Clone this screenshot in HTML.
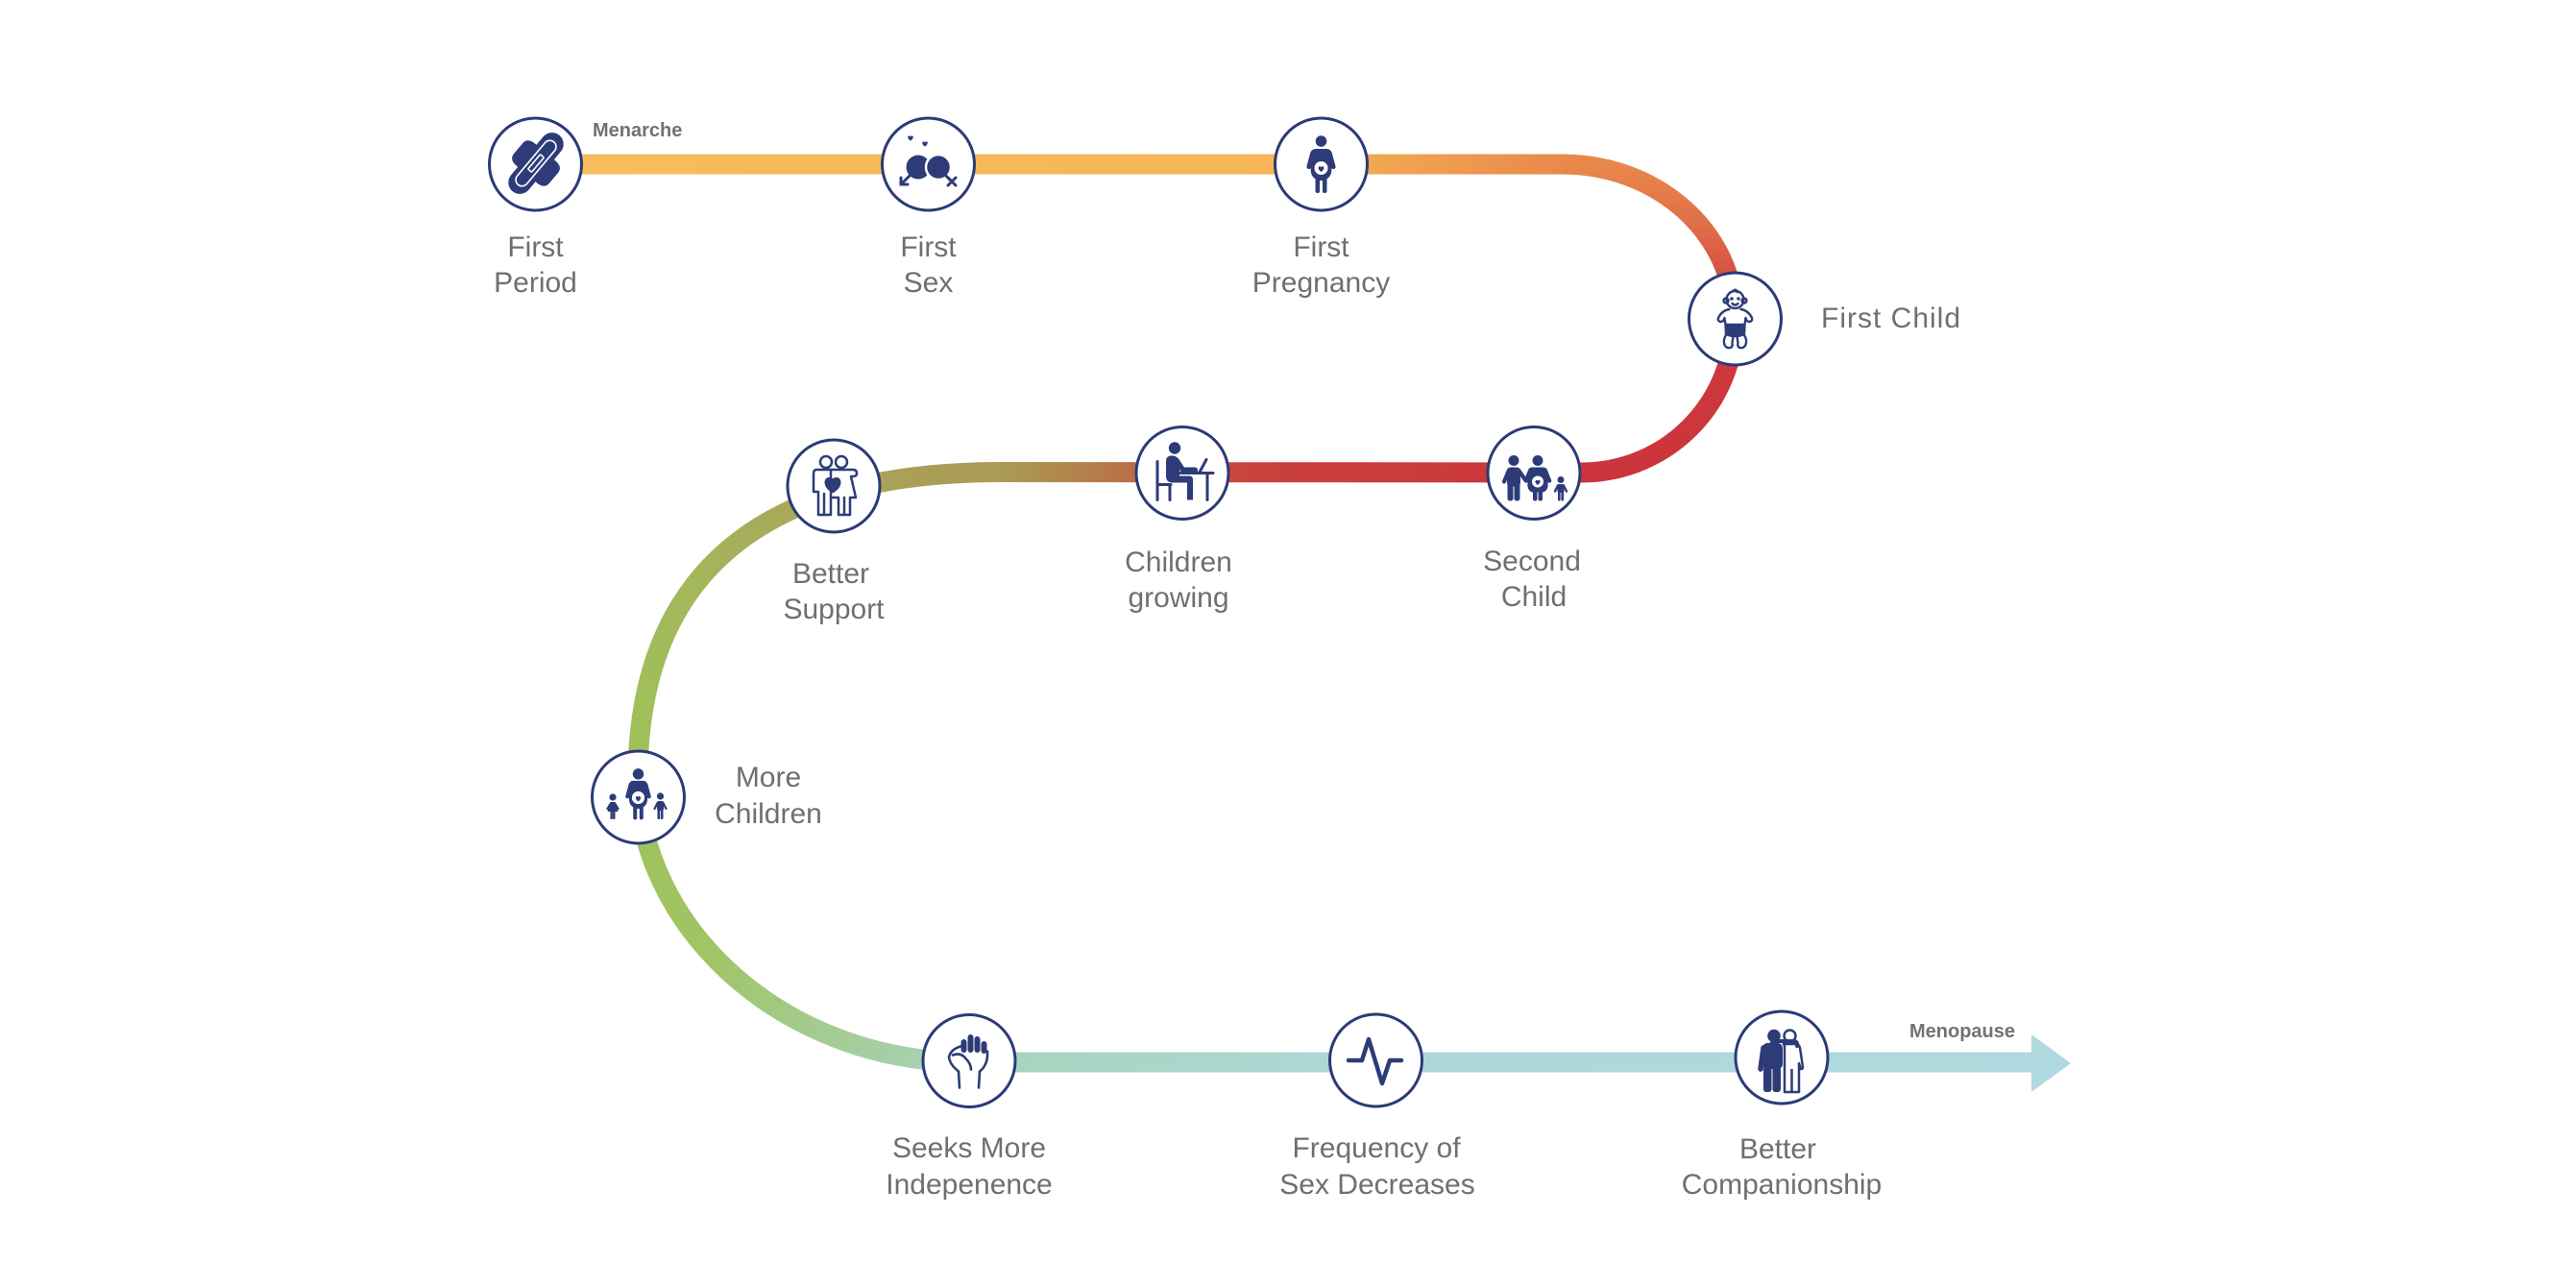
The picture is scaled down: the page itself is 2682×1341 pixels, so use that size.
<!DOCTYPE html>
<html>
<head>
<meta charset="utf-8">
<style>
  html, body { margin: 0; padding: 0; background: #ffffff; }
  svg { display: block; }
  .lbl { font-family: "Liberation Sans", Arial, sans-serif; font-size: 30px; fill: #6f6f71; }
  .sm { font-family: "Liberation Sans", Arial, sans-serif; font-size: 20px; font-weight: bold; fill: #727274; }
</style>
</head>
<body>
<svg width="2682" height="1341" viewBox="0 0 2682 1341" xmlns="http://www.w3.org/2000/svg">
  <defs>
    <linearGradient id="gA" gradientUnits="userSpaceOnUse" x1="557" y1="0" x2="1627" y2="0">
      <stop offset="0" stop-color="#f7bd5c"/>
      <stop offset="0.72" stop-color="#f5b558"/>
      <stop offset="0.9" stop-color="#ee9a4e"/>
      <stop offset="1" stop-color="#e9884b"/>
    </linearGradient>
    <linearGradient id="gB" gradientUnits="userSpaceOnUse" x1="0" y1="171" x2="0" y2="492">
      <stop offset="0" stop-color="#e9884b"/>
      <stop offset="0.2" stop-color="#e06e48"/>
      <stop offset="0.4" stop-color="#d44941"/>
      <stop offset="0.6" stop-color="#cd383c"/>
      <stop offset="1" stop-color="#cc353b"/>
    </linearGradient>
    <linearGradient id="gC" gradientUnits="userSpaceOnUse" x1="1647" y1="0" x2="1040" y2="0">
      <stop offset="0" stop-color="#cc353b"/>
      <stop offset="0.55" stop-color="#c9403d"/>
      <stop offset="0.7" stop-color="#bf5d42"/>
      <stop offset="0.85" stop-color="#b3804b"/>
      <stop offset="1" stop-color="#aa9b55"/>
    </linearGradient>
    <linearGradient id="gD" gradientUnits="userSpaceOnUse" x1="1040" y1="491" x2="664" y2="810">
      <stop offset="0" stop-color="#aa9b55"/>
      <stop offset="0.3" stop-color="#aaa45a"/>
      <stop offset="0.65" stop-color="#a4b75a"/>
      <stop offset="1" stop-color="#9ec259"/>
    </linearGradient>
    <linearGradient id="gE" gradientUnits="userSpaceOnUse" x1="664" y1="810" x2="1009" y2="1106">
      <stop offset="0" stop-color="#9ec259"/>
      <stop offset="0.4" stop-color="#a0c567"/>
      <stop offset="0.75" stop-color="#a5cc98"/>
      <stop offset="1" stop-color="#a8d3bb"/>
    </linearGradient>
    <linearGradient id="gF" gradientUnits="userSpaceOnUse" x1="1009" y1="0" x2="2116" y2="0">
      <stop offset="0" stop-color="#a8d3bb"/>
      <stop offset="0.2" stop-color="#aad6cb"/>
      <stop offset="0.4" stop-color="#add8da"/>
      <stop offset="1" stop-color="#afdadf"/>
    </linearGradient>
  </defs>

  <!-- timeline path segments -->
  <g fill="none" stroke-width="21" stroke-linecap="butt">
    <path d="M557,171 H1628" stroke="url(#gA)"/>
    <path d="M1627,171 C1726,171 1806,243 1806,332 C1806,421 1735,492 1646,492" stroke="url(#gB)"/>
    <path d="M1648,492 L1040,491.5" stroke="url(#gC)"/>
    <path d="M1041,491.5 C880,491.5 664,535 664,811" stroke="url(#gD)"/>
    <path d="M664,809 C664,960 809,1106 1010,1106" stroke="url(#gE)"/>
    <path d="M1008,1106 H2116" stroke="url(#gF)"/>
  </g>
  <polygon points="2115,1077 2156,1107 2115,1137" fill="#afdadf"/>

  <!-- circles -->
  <g fill="#ffffff" stroke="#2b3a78" stroke-width="3">
    <circle cx="557.5" cy="171" r="48"/>
    <circle cx="966.5" cy="171" r="48"/>
    <circle cx="1375.5" cy="171" r="48"/>
    <circle cx="1806.5" cy="332" r="48"/>
    <circle cx="1597" cy="492.5" r="48"/>
    <circle cx="1231" cy="492.5" r="48"/>
    <circle cx="868" cy="506" r="48"/>
    <circle cx="664.5" cy="830" r="48"/>
    <circle cx="1009" cy="1104.5" r="48"/>
    <circle cx="1432.5" cy="1104" r="48"/>
    <circle cx="1855" cy="1101" r="48"/>
  </g>

  <!-- Icon 1: pad -->
  <g transform="translate(558,170) rotate(40)" fill="#2d3c78">
    <rect x="-12" y="-38" width="24" height="76" rx="12"/>
    <path d="M-11,-15 Q-24,-16 -24,-7 L-24,7 Q-24,16 -11,15 Z"/>
    <path d="M11,-15 Q24,-16 24,-7 L24,7 Q24,16 11,15 Z"/>
    <rect x="-6.5" y="-29" width="13" height="58" rx="6.5" fill="none" stroke="#fff" stroke-width="1.6"/>
    <rect x="-2.5" y="-10" width="5" height="20" rx="1" fill="none" stroke="#fff" stroke-width="1.6"/>
  </g>

  <!-- Icon 2: first sex -->
  <g fill="#2d3c78">
    <circle cx="956" cy="174" r="12.5"/>
    <circle cx="977" cy="174" r="13" stroke="#fff" stroke-width="2.5"/>
    <path d="M948,146.6 C943.2,143.4 945.6,139.8 948,142.2 C950.4,139.8 952.8,143.4 948,146.6Z"/>
    <path d="M963,152.6 C958.2,149.4 960.6,145.8 963,148.2 C965.4,145.8 967.8,149.4 963,152.6Z"/>
    <g stroke="#2d3c78" stroke-width="3" fill="none" stroke-linecap="round">
      <path d="M947,183 L939,191"/>
      <path d="M938,185 L938,192 L945,192"/>
      <path d="M985,183 L991,189"/>
      <path d="M987,193 L995,185 M987,185 L995,193"/>
    </g>
  </g>

  <!-- Icon 3: pregnant woman -->
  <g transform="translate(1375.5,171)" fill="#2d3c78">
    <circle cx="0" cy="-24" r="5.8"/>
    <path d="M-6,-16 H6 Q10,-16 11.5,-11 L15,2 Q15.5,4.5 13,5 Q11,5.3 10.5,3 L8,-5 Q12,2 10.5,9 Q9,14 6,15 L6,28 Q6,30 3.5,30 Q1.5,30 1.5,28 L1.5,17 H-1.5 L-1.5,28 Q-1.5,30 -3.5,30 Q-6,30 -6,28 L-6,15 Q-9,14 -10.5,9 Q-12,2 -8,-5 L-10.5,3 Q-11,5.3 -13,5 Q-15.5,4.5 -15,2 L-11.5,-11 Q-10,-16 -6,-16Z"/>
    <circle cx="0" cy="4" r="7" fill="#fff"/>
    <path d="M0,8 C-5,4.5 -2.5,0.5 0,3 C2.5,0.5 5,4.5 0,8Z"/>
  </g>

  <!-- Icon 4: baby -->
  <g transform="translate(1806.5,332)" fill="none" stroke="#2d3c78" stroke-width="2.4" stroke-linejoin="round" stroke-linecap="round">
    <circle cx="0" cy="-20" r="9"/>
    <circle cx="-9.5" cy="-19" r="2.5"/>
    <circle cx="9.5" cy="-19" r="2.5"/>
    <path d="M-3,-16 Q0,-13 3,-16"/>
    <path d="M-2,-29 Q1,-32 2,-28"/>
    <path d="M-6,-10 Q-13,-9 -17,-2 Q-19,2 -15,3 Q-12,3 -11,-1 L-10,6 M10,6 L11,-1 Q12,3 15,3 Q19,2 17,-2 Q13,-9 6,-10"/>
    <path d="M-10,6 H10 L9.5,16 Q5,18 0,18 Q-5,18 -9.5,16Z" fill="#2d3c78"/>
    <path d="M-9,16 Q-13,22 -11,27 Q-9,31 -5,30 Q-2,29 -3,25 L-2,18"/>
    <path d="M9,16 Q13,22 11,27 Q9,31 5,30 Q2,29 3,25 L2,18"/>
    <circle cx="-3.5" cy="-21" r="0.6" fill="#2d3c78"/>
    <circle cx="3.5" cy="-21" r="0.6" fill="#2d3c78"/>
  </g>

  <!-- Icon 5: second child (family) -->
  <g transform="translate(1597,492.5)" fill="#2d3c78">
    <circle cx="-21" cy="-13" r="5.5"/>
    <rect x="-28" y="-6" width="14" height="20" rx="4"/>
    <rect x="-27.5" y="10" width="6" height="19" rx="2.5"/>
    <rect x="-20.5" y="10" width="6" height="19" rx="2.5"/>
    <g stroke="#2d3c78" stroke-width="4.2" stroke-linecap="round">
      <line x1="-26" y1="-3" x2="-31" y2="9"/>
      <line x1="-16" y1="-3" x2="-9" y2="7"/>
    </g>
    <circle cx="4" cy="-13" r="5.5"/>
    <path d="M-2,-6 H10 Q13,-6 14,-3 L18,7 Q19,9 17,10 Q15,10.5 14,9 L12,3 Q16,10 14,16 Q12,20 9,20 H-1 Q-4,20 -6,16 Q-8,10 -4,3 L-6,9 Q-7,10.5 -9,10 Q-11,9 -10,7 L-6,-3 Q-5,-6 -2,-6Z"/>
    <rect x="-1" y="18" width="4.5" height="11" rx="2"/>
    <rect x="4.5" y="18" width="4.5" height="11" rx="2"/>
    <circle cx="4" cy="9" r="6" fill="#fff"/>
    <path d="M4,12.5 C-0.5,9.5 1.8,6 4,8 C6.2,6 8.5,9.5 4,12.5Z"/>
    <circle cx="28" cy="7" r="3.5"/>
    <rect x="24.5" y="11.5" width="7" height="9" rx="2"/>
    <rect x="25" y="19" width="2.6" height="10" rx="1"/>
    <rect x="28.4" y="19" width="2.6" height="10" rx="1"/>
    <g stroke="#2d3c78" stroke-width="2.4" stroke-linecap="round">
      <line x1="25" y1="13" x2="22" y2="19"/>
      <line x1="31" y1="13" x2="34" y2="19"/>
    </g>
  </g>

  <!-- Icon 6: children growing (person at desk) -->
  <g transform="translate(1231,492.5)" fill="#2d3c78">
    <circle cx="-8" cy="-26" r="6.2"/>
    <path d="M-15,-17 Q-9,-20 -4,-15 L2,-6 H13 Q16,-6 16,-3 Q16,0 13,0 H-1 L-3,-4 L-3,3 H7 Q11,3 11,7 V28 H5 V10 H-10 Q-17,10 -17,3 V-12 Q-17,-16 -15,-17Z"/>
    <g stroke="#2d3c78" stroke-width="3" stroke-linecap="round" fill="none">
      <line x1="-26" y1="-12" x2="-26" y2="28"/>
      <line x1="-26" y1="12" x2="-12" y2="12"/>
      <line x1="-13" y1="12" x2="-13" y2="28"/>
      <line x1="-2" y1="0" x2="32" y2="0"/>
      <line x1="26" y1="0" x2="26" y2="28"/>
      <line x1="18" y1="-1" x2="25" y2="-14"/>
    </g>
  </g>

  <!-- Icon 7: better support -->
  <g transform="translate(868,506)" fill="none" stroke="#2d3c78" stroke-width="2.5" stroke-linejoin="round" stroke-linecap="round">
    <circle cx="-8" cy="-25" r="6"/>
    <circle cx="8" cy="-25" r="6"/>
    <path d="M-18,-17 H-3 V30 H-16 V6 H-21 V-13 Q-21,-17 -18,-17Z"/>
    <line x1="-10" y1="8" x2="-10" y2="30"/>
    <path d="M-3,-17 H20 Q24,-17 24,-13 Q24,-10 20,-10 L18,-10 L23,12 H17 V30 H5 V12 H-1"/>
    <line x1="11" y1="12" x2="11" y2="30"/>
    <path d="M-1,6 C-13,-1 -8,-12 -1,-6 C6,-12 11,-1 -1,6Z" fill="#2d3c78"/>
  </g>

  <!-- Icon 8: more children -->
  <g fill="#2d3c78">
    <g transform="translate(664.5,827) scale(0.88)">
      <circle cx="0" cy="-24" r="6.5"/>
      <path d="M-6,-16 H6 Q10,-16 11.5,-11 L15,2 Q15.5,4.5 13,5 Q11,5.3 10.5,3 L8,-5 Q12,2 10.5,9 Q9,14 6,15 L6,28 Q6,30 3.5,30 Q1.5,30 1.5,28 L1.5,17 H-1.5 L-1.5,28 Q-1.5,30 -3.5,30 Q-6,30 -6,28 L-6,15 Q-9,14 -10.5,9 Q-12,2 -8,-5 L-10.5,3 Q-11,5.3 -13,5 Q-15.5,4.5 -15,2 L-11.5,-11 Q-10,-16 -6,-16Z"/>
      <circle cx="0" cy="4" r="7.5" fill="#fff"/>
      <path d="M0,8.5 C-5,5 -2.5,0.5 0,3 C2.5,0.5 5,5 0,8.5Z"/>
    </g>
    <g transform="translate(664.5,830)">
      <circle cx="-26.5" cy="0" r="3.6"/>
      <path d="M-29,5 H-24 L-21,15 H-32Z"/>
      <rect x="-29" y="14" width="2.4" height="9" rx="1"/>
      <rect x="-26.4" y="14" width="2.4" height="9" rx="1"/>
      <circle cx="23" cy="-1" r="3.6"/>
      <rect x="19.5" y="4" width="7" height="10" rx="2"/>
      <rect x="20" y="13" width="2.6" height="10" rx="1"/>
      <rect x="23.4" y="13" width="2.6" height="10" rx="1"/>
      <g stroke="#2d3c78" stroke-width="2.2" stroke-linecap="round">
        <line x1="-29" y1="7" x2="-32" y2="12"/>
        <line x1="-24" y1="7" x2="-21" y2="12"/>
        <line x1="20" y1="6" x2="17" y2="12"/>
        <line x1="26" y1="6" x2="29" y2="12"/>
      </g>
    </g>
  </g>

  <!-- Icon 9: fist -->
  <g transform="translate(1009,1104.5)">
    <g fill="#2d3c78" stroke="#fff" stroke-width="1">
      <rect x="-9" y="-23" width="7" height="15" rx="3.5"/>
      <rect x="-2" y="-28" width="7" height="20" rx="3.5"/>
      <rect x="5" y="-26" width="7" height="18" rx="3.5"/>
      <rect x="12" y="-21" width="7" height="14" rx="3.5"/>
    </g>
    <g fill="none" stroke="#2d3c78" stroke-width="2.6" stroke-linecap="round" stroke-linejoin="round">
      <path d="M-9,-15 Q-19,-12 -21,-4 Q-20,4 -11,11 L-10,28"/>
      <path d="M19,-10 Q20,4 11,11 L10,28"/>
      <path d="M-17,-6 Q-9,-9 -4,-3 Q2,3 2,9"/>
    </g>
  </g>

  <!-- Icon 10: pulse -->
  <polyline points="1404,1104 1418,1104 1425,1082 1439,1128 1447,1104 1459,1104" fill="none" stroke="#2d3c78" stroke-width="4.5" stroke-linecap="round" stroke-linejoin="round"/>

  <!-- Icon 11: companionship -->
  <g transform="translate(1855,1101)">
    <g fill="#2d3c78">
      <circle cx="-8" cy="-22.5" r="6.8"/>
      <rect x="-20" y="-15" width="21" height="27" rx="5"/>
      <rect x="-19" y="9" width="8.5" height="27" rx="3"/>
      <rect x="-9.5" y="9" width="8.5" height="27" rx="3"/>
      <line x1="-19" y1="-10" x2="-22" y2="12" stroke="#2d3c78" stroke-width="5.5" stroke-linecap="round"/>
    </g>
    <g fill="#fff" stroke="#2d3c78" stroke-width="2.5" stroke-linejoin="round">
      <circle cx="8.5" cy="-22.5" r="6"/>
      <path d="M2,-14 H15 Q18,-14 19,-10 L22,10 Q22,12 20,12 L18,6 V36 H3 V-12 Z"/>
      <line x1="10.5" y1="12" x2="10.5" y2="36"/>
    </g>
    <path d="M16,-12 Q17,-17 12,-17 H-5 Q-11,-17 -11,-12" fill="none" stroke="#2d3c78" stroke-width="4" stroke-linecap="round"/>
  </g>

  <!-- labels -->
  <text class="sm" x="617" y="142">Menarche</text>
  <text class="sm" x="1988" y="1080">Menopause</text>

  <g class="lbl" text-anchor="middle">
    <text x="557.5" y="267">First</text>
    <text x="557.5" y="304">Period</text>
    <text x="966.5" y="267">First</text>
    <text x="966.5" y="304">Sex</text>
    <text x="1375.5" y="267">First</text>
    <text x="1375.5" y="304">Pregnancy</text>
    <text x="1595" y="594">Second</text>
    <text x="1597" y="631">Child</text>
    <text x="1227" y="595">Children</text>
    <text x="1227" y="632">growing</text>
    <text x="865" y="607">Better</text>
    <text x="868" y="644">Support</text>
    <text x="800" y="819">More</text>
    <text x="800" y="857">Children</text>
    <text x="1009" y="1205">Seeks More</text>
    <text x="1009" y="1243">Indepenence</text>
    <text x="1433" y="1205">Frequency of</text>
    <text x="1434" y="1243">Sex Decreases</text>
    <text x="1851" y="1206">Better</text>
    <text x="1855" y="1243">Companionship</text>
  </g>
  <text class="lbl" x="1896" y="341" letter-spacing="1">First Child</text>
</svg>
</body>
</html>
